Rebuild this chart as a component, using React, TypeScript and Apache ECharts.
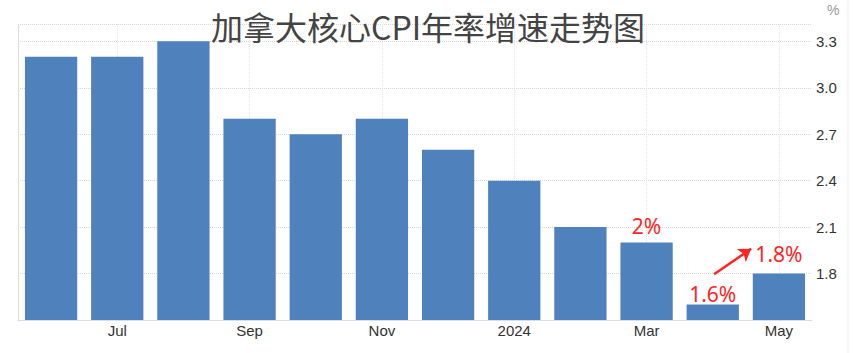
import React, { useEffect, useRef } from "react";
import * as echarts from "echarts";

const categories = ["Jun", "Jul", "Aug", "Sep", "Oct", "Nov", "Dec", "2024", "Feb", "Mar", "Apr", "May"];
const values = [3.2, 3.2, 3.3, 2.8, 2.7, 2.8, 2.6, 2.4, 2.1, 2.0, 1.6, 1.8];
const annotations: { index: number; text: string; distance: number }[] = [
  { index: 9, text: "2%", distance: 6 },
  { index: 10, text: "1.6%", distance: 0 },
  { index: 11, text: "1.8%", distance: 9 },
];
// arrow endpoints in (category position, value) units, category i centred at i + 0.5
const arrowFrom: [number, number] = [10.52, 1.795];
const arrowTo: [number, number] = [11.08, 1.96];
const yTicks = [1.8, 2.1, 2.4, 2.7, 3.0, 3.3];
const titleText = "加拿大核心CPI年率增速走势图";

export default function App() {
  const ref = useRef<HTMLDivElement>(null);
  useEffect(() => {
    if (!ref.current) return;
    const chart = echarts.init(ref.current, null, { renderer: "svg" });
    const data = values.map((v, i) => {
      const a = annotations.find((x) => x.index === i);
      if (!a) return v;
      return {
        value: v,
        label: {
          show: true,
          position: "top",
          distance: a.distance,
          formatter: a.text,
          color: "#ff2424",
          fontSize: 21,
          fontFamily: "Noto Sans, sans-serif",
        },
      };
    });
    const odd = (i: number) => i % 2 === 1;
    chart.setOption({
      animation: false,
      backgroundColor: "#ffffff",
      title: [
        {
          text: titleText,
          left: 206,
          top: 5,
          textStyle: {
            fontSize: 32,
            fontWeight: "normal",
            color: "#444444",
            fontFamily: "Noto Sans CJK SC, sans-serif",
          },
        },
        {
          text: "%",
          left: 822,
          top: -2,
          textStyle: { fontSize: 14, fontWeight: "normal", color: "#999999", fontFamily: "Liberation Sans, Arial" },
        },
      ],
      graphic: [
        {
          type: "line",
          shape: { x1: 848, y1: 0, x2: 848, y2: 353 },
          style: { stroke: "#ececec", lineWidth: 1 },
        },
      ],
      grid: { left: 18, right: 52, top: 24, bottom: 33, containLabel: false },
      xAxis: [
        {
          type: "category",
          data: categories,
          axisLine: { show: true, lineStyle: { color: "#dddddd" } },
          axisTick: { show: false },
          axisLabel: {
            interval: odd,
            color: "#333333",
            fontSize: 15,
            fontFamily: "Liberation Sans, Arial",
            margin: 3,
          },
          splitLine: {
            show: true,
            interval: odd,
            alignWithLabel: true,
            lineStyle: { color: "#e2e2e2", type: "dotted" },
          },
        },
        {
          type: "value",
          min: 0,
          max: categories.length,
          show: false,
        },
      ],
      yAxis: {
        type: "value",
        position: "right",
        min: 1.5,
        max: 3.412,
        interval: 0.3,
        axisLine: { show: true, lineStyle: { color: "#dddddd" } },
        axisTick: { show: false },
        axisLabel: {
          color: "#333333",
          fontSize: 15,
          fontFamily: "Liberation Sans, Arial",
          margin: 4,
          padding: [0, 0, 4, 0],
          formatter: (v: number) => {
            const t = yTicks.find((x) => Math.abs(x - v) < 1e-6);
            return t === undefined ? "" : t.toFixed(1);
          },
        },
        splitLine: { show: true, lineStyle: { color: "#d8d8d8", type: "dotted" } },
      },
      series: [
        {
          type: "bar",
          data,
          barCategoryGap: "21%",
          itemStyle: { color: "#4f81bd" },
        },
        {
          type: "line",
          xAxisIndex: 1,
          data: [],
          markLine: {
            silent: true,
            symbol: ["none", "arrow"],
            symbolSize: 12,
            label: { show: false },
            lineStyle: { color: "#ff2424", width: 2.5, type: "solid" },
            itemStyle: { color: "#ff2424" },
            data: [[{ coord: arrowFrom }, { coord: arrowTo }]],
          },
        },
      ],
    });
    return () => chart.dispose();
  }, []);
  return <div ref={ref} style={{ position: "fixed", left: 0, top: 0, width: 864, height: 353 }} />;
}
